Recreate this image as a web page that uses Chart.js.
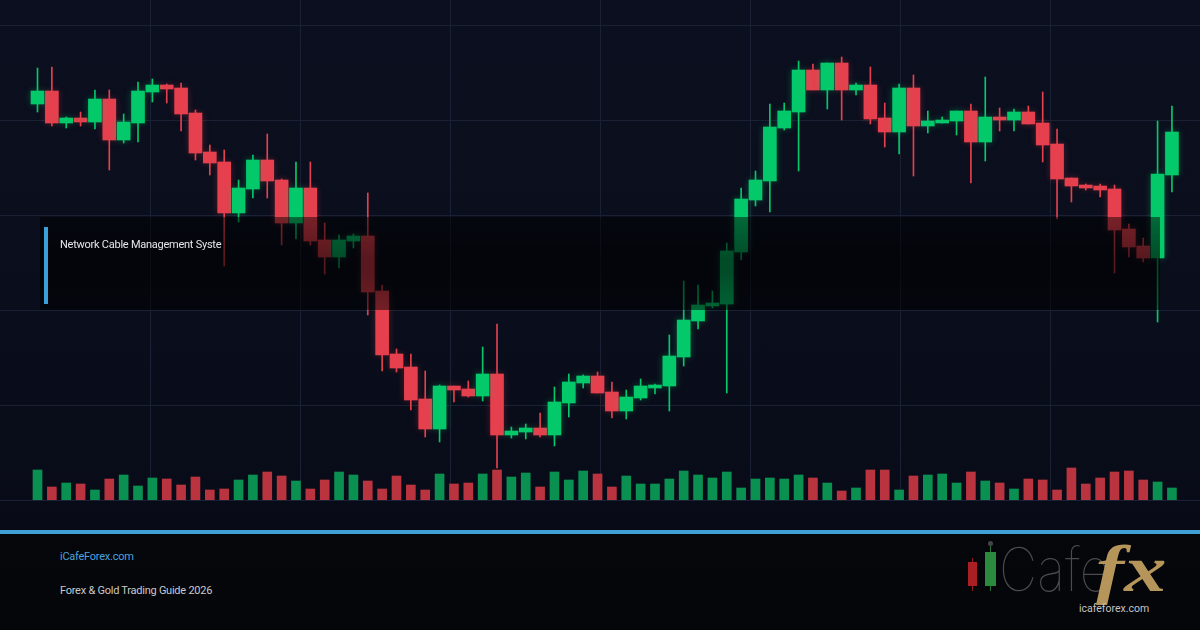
<!DOCTYPE html>
<html>
<head>
<meta charset="utf-8">
<title>Gold candles</title>
<script src="https://cdn.jsdelivr.net/npm/chart.js@4.4.1/dist/chart.umd.min.js"></script>
<style>
  html, body { margin: 0; padding: 0; background: #05070c; }
  #page { position: relative; width: 1200px; height: 630px; overflow: hidden;
          background: linear-gradient(to bottom, #06080e, #04060a);
          font-family: Roboto, "Liberation Sans", Arial, sans-serif; }
  #plot { position: absolute; left: 0; top: 0; width: 1200px; height: 530px;
          background: linear-gradient(to bottom, #0b0f1f 0%, #0a0e1c 60%, #080b17 100%); }
  #band { position: absolute; left: 40px; top: 217px; width: 1120px; height: 93px;
          background: linear-gradient(to bottom, rgba(0,0,0,0.48), rgba(0,0,0,0.62) 45%, rgba(0,0,0,0.62) 60%, rgba(0,0,0,0.5)); }
  #bandBar { position: absolute; left: 44px; top: 227px; width: 4px; height: 77px; background: #3aa0d7; }
  #bandTitle { position: absolute; left: 60px; top: 239px; font-size: 11px; line-height: 11px;
               color: #e4e6ea; letter-spacing: -0.25px; white-space: nowrap; }
  #rule { position: absolute; left: 0; top: 530px; width: 1200px; height: 4px; background: #40a0d6; }
  #site { position: absolute; left: 60px; top: 551px; font-size: 11px; line-height: 11px; color: #4aa3de;
          letter-spacing: -0.25px; }
  #guide { position: absolute; left: 60px; top: 585px; font-size: 11px; line-height: 11px; color: #c8c9cc;
           letter-spacing: -0.25px; }
  .lc { position: absolute; }
  #cafe { position: absolute; left: 999px; top: 539px; font-family: Inter, "DejaVu Sans", sans-serif;
          font-weight: 100; font-size: 60px; line-height: 60px; color: #4b4b4d;
          transform: scaleX(0.88); transform-origin: left top; white-space: nowrap; }
  #fx { position: absolute; left: 1096px; top: 536px; font-family: "Liberation Serif", "DejaVu Serif", serif;
        font-style: italic; font-weight: bold; font-size: 66px; line-height: 66px; color: #b6955a;
        transform: scaleX(1.28); transform-origin: left top; }
  #logoUrl { position: absolute; left: 1079px; top: 604px; font-size: 10.5px; line-height: 10.5px; color: #c4c4c4; }
</style>
</head>
<body>
<div id="page">
  <div id="plot"><canvas id="candles" width="1200" height="530"></canvas></div>
  <div id="band"></div>
  <div id="bandBar"></div>
  <div id="bandTitle">Network Cable Management Syste</div>
  <div id="rule"></div>
  <div id="site">iCafeForex.com</div>
  <div id="guide">Forex &amp; Gold Trading Guide 2026</div>
  <div class="lc" style="left:972px;top:558px;width:1px;height:33px;background:#8e1c20"></div>
  <div class="lc" style="left:968px;top:562px;width:9px;height:24px;background:#a91f24"></div>
  <div class="lc" style="left:990px;top:544px;width:1px;height:47px;background:#2a6e38"></div>
  <div class="lc" style="left:988px;top:541px;width:5px;height:5px;border-radius:50%;background:#444"></div>
  <div class="lc" style="left:985px;top:552px;width:11px;height:34px;background:#2a8a3e"></div>
  <div id="cafe">Cafe</div>
  <div id="fx">fx</div>
  <div id="logoUrl">icafeforex.com</div>
</div>
<script>
// OHLC, 80 sessions
const openP = [2296, 2309, 2277, 2282, 2278, 2301, 2260, 2277, 2308, 2315,
               2312, 2287, 2248, 2238, 2187, 2211, 2240, 2220, 2177, 2212,
               2160, 2143, 2159, 2164, 2109, 2046, 2033, 2001, 1971, 2014,
               2011, 2004, 2026, 1965, 1968, 1972, 1965, 1997, 2017, 2024,
               2008, 1989, 2002, 2012, 2014, 2043, 2079, 2094, 2096, 2148,
               2200, 2219, 2272, 2288, 2330, 2310, 2337, 2310, 2315, 2282,
               2268, 2312, 2274, 2277, 2279, 2289, 2258, 2283, 2280, 2288,
               2277, 2256, 2222, 2215, 2214, 2211, 2171, 2154, 2142, 2225];
const highP = [2332, 2333, 2283, 2288, 2310, 2310, 2286, 2318, 2321, 2316,
               2317, 2290, 2255, 2250, 2220, 2245, 2266, 2221, 2238, 2238,
               2177, 2165, 2166, 2207, 2115, 2051, 2046, 2029, 2015, 2014,
               2019, 2053, 2076, 1973, 1976, 1987, 2013, 2026, 2025, 2028,
               2018, 2010, 2021, 2016, 2065, 2119, 2115, 2109, 2157, 2212,
               2229, 2296, 2297, 2339, 2336, 2337, 2343, 2317, 2333, 2297,
               2316, 2325, 2289, 2283, 2289, 2296, 2323, 2292, 2291, 2294,
               2308, 2271, 2222, 2216, 2216, 2215, 2176, 2162, 2279, 2294];
const lowP = [2288, 2274, 2272, 2274, 2271, 2230, 2257, 2258, 2298, 2297,
              2269, 2240, 2225, 2134, 2178, 2202, 2202, 2155, 2161, 2155,
              2126, 2132, 2152, 2085, 2029, 2028, 1990, 1963, 1958, 1998,
              2003, 1999, 1932, 1962, 1961, 1963, 1954, 1983, 2012, 2007,
              1982, 1981, 2000, 2006, 1989, 2034, 2071, 2092, 2007, 2140,
              2194, 2188, 2270, 2229, 2310, 2291, 2280, 2305, 2276, 2253,
              2246, 2224, 2267, 2277, 2265, 2217, 2239, 2269, 2269, 2276,
              2238, 2181, 2198, 2210, 2203, 2127, 2143, 2138, 2078, 2208];
const closeP = [2309, 2277, 2282, 2278, 2301, 2260, 2278, 2309, 2315, 2311,
                2286, 2247, 2237, 2187, 2212, 2240, 2219, 2177, 2212, 2159,
                2143, 2160, 2164, 2108, 2045, 2032, 2000, 1971, 2014, 2010,
                2004, 2026, 1965, 1969, 1972, 1965, 1998, 2018, 2024, 2007,
                1989, 2003, 2014, 2015, 2044, 2080, 2095, 2097, 2149, 2201,
                2220, 2273, 2289, 2330, 2310, 2337, 2310, 2315, 2281, 2268,
                2312, 2274, 2279, 2280, 2289, 2258, 2283, 2280, 2288, 2276,
                2255, 2221, 2214, 2212, 2210, 2170, 2153, 2142, 2226, 2268];
const volume = [3000, 1300, 1700, 1600, 1000, 2100, 2500, 1400, 2200, 2100,
                1500, 2300, 1000, 1100, 2000, 2500, 2800, 2400, 1900, 1100,
                2000, 2800, 2500, 1900, 1100, 2400, 1500, 1000, 2600, 1600,
                1700, 2600, 3000, 2300, 2700, 1300, 2800, 2000, 2900, 2600,
                1300, 2400, 1600, 1600, 2100, 2900, 2500, 2200, 2800, 1200,
                2100, 2200, 2100, 2500, 2200, 1700, 900, 1200, 3000, 3000,
                1000, 2400, 2500, 2600, 1700, 2800, 1900, 1700, 1100, 2100,
                2000, 1000, 3200, 1600, 2200, 2800, 2900, 2000, 1800, 1200];

const UP = '#04c96b', DOWN = '#e6404e';
const VOL_UP = '#0a9152', VOL_DOWN = '#b9343f';
const GRID = '#1b2134';

// plot geometry
const PLOT_W = 1200, PLOT_H = 500;
const FIRST_X = 37.5, STEP = 14.36;   // centre of first candle, candle pitch
const PRICE_TOP = 2400;               // price at top edge, 1px per unit
const VOL_PX = 0.01;                  // px per volume unit
const GRID_DX = 150, GRID_DY = 95, GRID_Y0 = 25;

const isUp = closeP.map((c, i) => c >= openP[i]);
const upBodies = openP.map((o, i) => isUp[i] ? {x: i, y: [o, closeP[i]]} : {x: i, y: null});
const downBodies = openP.map((o, i) => isUp[i] ? {x: i, y: null} : {x: i, y: [o, closeP[i]]});
const wicks = lowP.map((l, i) => ({x: i, y: [l, highP[i]]}));
const vols = volume.map((v, i) => ({x: i, y: v}));

function gridTicks(from, to, step) {
    const t = [];
    for (let v = from; v <= to; v += step) t.push({value: v});
    return t;
}

// soft glow behind candle bodies
const glowPlugin = {
    id: 'glow',
    beforeDatasetDraw(chart, args) {
        const g = chart.data.datasets[args.index].glow;
        if (!g) return;
        chart.ctx.save();
        chart.ctx.shadowColor = g;
        chart.ctx.shadowBlur = 7;
    },
    afterDatasetDraw(chart, args) {
        if (chart.data.datasets[args.index].glow) chart.ctx.restore();
    }
};

new Chart(document.getElementById('candles').getContext('2d'), {
    type: 'bar',
    data: {
        datasets: [
            {
                label: 'Up',
                data: upBodies,
                xAxisID: 'x', yAxisID: 'y',
                backgroundColor: UP,
                glow: 'rgba(4,201,107,0.35)',
                barThickness: 13,
                grouped: false,
                order: 1,
            },
            {
                label: 'Down',
                data: downBodies,
                xAxisID: 'x', yAxisID: 'y',
                backgroundColor: DOWN,
                glow: 'rgba(230,64,78,0.3)',
                barThickness: 13,
                grouped: false,
                order: 1,
            },
            {
                label: 'Wick',
                data: wicks,
                xAxisID: 'x', yAxisID: 'y',
                backgroundColor: isUp.map(u => u ? UP : DOWN),
                barThickness: 1,
                grouped: false,
                order: 2,
            },
            {
                label: 'Volume',
                data: vols,
                xAxisID: 'x', yAxisID: 'yv',
                backgroundColor: isUp.map(u => u ? VOL_UP : VOL_DOWN),
                barThickness: 9,
                grouped: false,
                order: 3,
            },
        ]
    },
    options: {
        responsive: false,
        animation: false,
        events: [],
        layout: { padding: { left: 0, right: 0, top: 0, bottom: 530 - PLOT_H } },
        scales: {
            x: { type: 'linear', display: false, offset: false, grid: { offset: false },
                 min: -FIRST_X / STEP, max: (PLOT_W - FIRST_X) / STEP },
            y: { type: 'linear', display: false, min: PRICE_TOP - PLOT_H, max: PRICE_TOP },
            yv: { type: 'linear', display: false, min: 0, max: PLOT_H / VOL_PX },
            // background grid, in pixel units (bar defaults would offset it, so switch that off)
            xg: { type: 'linear', axis: 'x', position: 'bottom', min: 0, max: PLOT_W,
                  offset: false,
                  afterBuildTicks: s => { s.ticks = gridTicks(GRID_DX, PLOT_W - 1, GRID_DX); },
                  ticks: { display: false },
                  grid: { drawTicks: false, offset: false, color: GRID },
                  border: { display: false } },
            yg: { type: 'linear', axis: 'y', position: 'left', reverse: true, min: 0, max: PLOT_H,
                  offset: false,
                  afterBuildTicks: s => { s.ticks = gridTicks(GRID_Y0, PLOT_H, GRID_DY); },
                  ticks: { display: false },
                  grid: { drawTicks: false, offset: false, color: GRID },
                  border: { display: false } },
        },
        plugins: {
            legend: { display: false },
            tooltip: { enabled: false },
        }
    },
    plugins: [glowPlugin]
});
</script>
</body>
</html>
